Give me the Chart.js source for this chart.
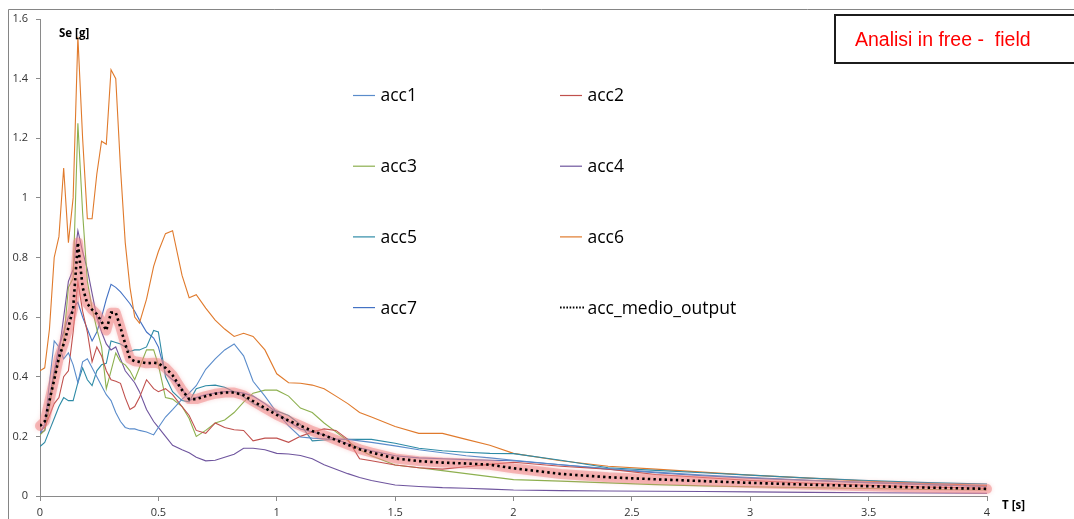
<!DOCTYPE html>
<html>
<head>
<meta charset="utf-8">
<script src="https://cdn.jsdelivr.net/npm/chart.js@4.4.0/dist/chart.umd.min.js"></script>
<style>
  html, body { margin: 0; padding: 0; background: #fff; overflow: hidden; }
</style>
</head>
<body>
<canvas id="chart" width="1074" height="519"></canvas>
<script>
// periodi T [s]
const periods = [
  0, 0.02, 0.04, 0.06, 0.08, 0.10, 0.12, 0.14, 0.16, 0.18,
  0.20, 0.22, 0.24, 0.26, 0.28, 0.30, 0.32, 0.34, 0.36, 0.38,
  0.40, 0.42, 0.45, 0.48, 0.50, 0.53, 0.56, 0.60, 0.63, 0.66,
  0.70, 0.74, 0.78, 0.82, 0.86, 0.90, 0.95, 1.00, 1.05, 1.10,
  1.15, 1.20, 1.25, 1.30, 1.35, 1.40, 1.50, 1.60, 1.70, 1.80,
  1.90, 2.00, 2.20, 2.40, 2.60, 2.80, 3.00, 3.25, 3.50, 3.75,
  4.00
];

// Se [g] per ogni accelerogramma
const acc1 = [
  0.21, 0.24, 0.38, 0.52, 0.50, 0.46, 0.48, 0.44, 0.38, 0.45,
  0.46, 0.43, 0.40, 0.37, 0.34, 0.32, 0.28, 0.25, 0.23, 0.225,
  0.225, 0.22, 0.215, 0.205, 0.23, 0.265, 0.29, 0.325, 0.345, 0.37,
  0.425, 0.46, 0.49, 0.51, 0.47, 0.385, 0.335, 0.28, 0.235, 0.198,
  0.194, 0.192, 0.19, 0.19, 0.185, 0.18, 0.168, 0.155, 0.145, 0.135,
  0.128, 0.12, 0.105, 0.092, 0.08, 0.07, 0.062, 0.053, 0.045, 0.038,
  0.032
];
const acc2 = [
  0.22, 0.23, 0.27, 0.31, 0.33, 0.40, 0.42, 0.55, 0.72, 0.62,
  0.55, 0.45, 0.50, 0.47, 0.42, 0.39, 0.385, 0.378, 0.33, 0.29,
  0.30, 0.33, 0.39, 0.36, 0.35, 0.36, 0.34, 0.30, 0.27, 0.22,
  0.21, 0.245, 0.23, 0.222, 0.22, 0.185, 0.194, 0.194, 0.18, 0.20,
  0.215, 0.225, 0.22, 0.19, 0.125, 0.118, 0.104, 0.095, 0.09, 0.098,
  0.106, 0.113, 0.10, 0.09, 0.072, 0.062, 0.052, 0.043, 0.036, 0.03,
  0.026
];
const acc3 = [
  0.205, 0.22, 0.30, 0.40, 0.45, 0.52, 0.70, 0.73, 1.25, 0.95,
  0.72, 0.63, 0.56, 0.50, 0.36, 0.42, 0.48, 0.45, 0.44, 0.42,
  0.39, 0.43, 0.49, 0.49, 0.44, 0.33, 0.325, 0.30, 0.26, 0.20,
  0.22, 0.245, 0.255, 0.28, 0.315, 0.345, 0.355, 0.355, 0.335, 0.295,
  0.28, 0.245, 0.215, 0.185, 0.155, 0.135, 0.104, 0.095, 0.085, 0.075,
  0.065, 0.055, 0.05, 0.044, 0.038, 0.034, 0.031, 0.028, 0.025, 0.022,
  0.02
];
const acc4 = [
  0.21, 0.22, 0.30, 0.40, 0.48, 0.60, 0.72, 0.76, 0.89, 0.82,
  0.76, 0.68, 0.60, 0.55, 0.51, 0.49, 0.50, 0.46, 0.42, 0.40,
  0.38, 0.35, 0.29, 0.25, 0.23, 0.20, 0.17, 0.155, 0.145, 0.13,
  0.118, 0.12, 0.13, 0.14, 0.16, 0.16, 0.155, 0.143, 0.141, 0.136,
  0.125, 0.105, 0.09, 0.075, 0.062, 0.052, 0.037, 0.032, 0.028, 0.026,
  0.023, 0.02, 0.018, 0.017, 0.016, 0.015, 0.014, 0.012, 0.011, 0.01,
  0.009
];
const acc5 = [
  0.166, 0.18, 0.22, 0.26, 0.30, 0.33, 0.32, 0.32, 0.38, 0.43,
  0.39, 0.37, 0.42, 0.44, 0.445, 0.52, 0.515, 0.51, 0.50, 0.485,
  0.49, 0.49, 0.50, 0.555, 0.55, 0.40, 0.35, 0.32, 0.316, 0.36,
  0.37, 0.372, 0.365, 0.35, 0.333, 0.31, 0.29, 0.285, 0.27, 0.24,
  0.185, 0.188, 0.19, 0.19, 0.19, 0.19, 0.177, 0.16, 0.152, 0.147,
  0.143, 0.142, 0.12, 0.095, 0.086, 0.078, 0.07, 0.06, 0.052, 0.045,
  0.04
];
const acc6 = [
  0.42, 0.43, 0.56, 0.80, 0.87, 1.10, 0.85, 1.00, 1.54, 1.20,
  0.93, 0.93, 1.08, 1.19, 1.18, 1.43, 1.40, 1.10, 0.85, 0.70,
  0.60, 0.58, 0.66, 0.77, 0.82, 0.88, 0.89, 0.74, 0.665, 0.675,
  0.63, 0.59, 0.56, 0.535, 0.546, 0.535, 0.49, 0.41, 0.38, 0.378,
  0.372, 0.36, 0.335, 0.31, 0.28, 0.265, 0.233, 0.21, 0.21, 0.19,
  0.17, 0.143, 0.118, 0.10, 0.09, 0.08, 0.07, 0.06, 0.05, 0.042,
  0.035
];
const acc7 = [
  0.21, 0.24, 0.33, 0.42, 0.50, 0.55, 0.60, 0.63, 0.65, 0.60,
  0.56, 0.52, 0.55, 0.60, 0.66, 0.71, 0.70, 0.685, 0.665, 0.645,
  0.62, 0.59, 0.55, 0.53, 0.50, 0.41, 0.39, 0.36, 0.32, 0.33,
  0.34, 0.345, 0.35, 0.35, 0.345, 0.335, 0.31, 0.28, 0.25, 0.225,
  0.215, 0.205, 0.19, 0.175, 0.162, 0.152, 0.135, 0.128, 0.125, 0.122,
  0.12, 0.118, 0.105, 0.09, 0.078, 0.068, 0.06, 0.052, 0.045, 0.038,
  0.033
];
const accMedio = [
  0.235, 0.25, 0.32, 0.39, 0.465, 0.51, 0.565, 0.63, 0.85, 0.70,
  0.645, 0.625, 0.61, 0.585, 0.555, 0.615, 0.615, 0.565, 0.51, 0.46,
  0.452, 0.45, 0.445, 0.447, 0.445, 0.43, 0.405, 0.355, 0.325, 0.325,
  0.335, 0.343, 0.347, 0.347, 0.338, 0.318, 0.295, 0.272, 0.253, 0.236,
  0.218, 0.204, 0.188, 0.172, 0.157, 0.146, 0.126, 0.117, 0.112, 0.109,
  0.105, 0.093, 0.074, 0.063, 0.056, 0.05, 0.044, 0.038, 0.033, 0.028,
  0.024
];

const seriesNames = ['acc1', 'acc2', 'acc3', 'acc4', 'acc5', 'acc6', 'acc7', 'acc_medio_output'];
const seriesValues = [acc1, acc2, acc3, acc4, acc5, acc6, acc7, accMedio];
const seriesColors = ['#5A8CCB', '#C0504D', '#8DB04F', '#6F559E', '#2E8BA6', '#E07A2C', '#4472C4', '#000000'];

const yTicks = [0, 0.2, 0.4, 0.6, 0.8, 1, 1.2, 1.4, 1.6];
const xTicks = [0, 0.5, 1, 1.5, 2, 2.5, 3, 3.5, 4];

const MEAN = 7;
const tickFont = { family: "'Open Sans', 'DejaVu Sans', sans-serif", size: 11 };

const datasets = seriesNames.map((name, i) => {
  const isMean = i === MEAN;
  return {
    label: name,
    data: seriesValues[i].map((v, k) => ({ x: periods[k], y: v })),
    borderColor: seriesColors[i],
    borderWidth: isMean ? 2.6 : 1.1,
    borderDash: isMean ? [2.4, 3.2] : [],
    pointRadius: 0,
    tension: 0,
    fill: false,
    order: isMean ? -1 : i
  };
});

// glow rosa sotto la media + cornice, titolo, legenda
const decor = {
  id: 'decor',
  beforeDraw(chart) {
    const ctx = chart.ctx;
    ctx.save();
    ctx.fillStyle = '#fff';
    ctx.fillRect(0, 0, chart.width, chart.height);
    ctx.strokeStyle = '#858585';
    ctx.lineWidth = 1;
    ctx.beginPath();
    ctx.moveTo(8.5, chart.height);
    ctx.lineTo(8.5, 9.5);
    ctx.lineTo(chart.width, 9.5);
    ctx.stroke();
    ctx.restore();
  },
  beforeDatasetDraw(chart, args) {
    if (args.index !== MEAN) return;
    const ctx = chart.ctx;
    const pts = args.meta.data;
    ctx.save();
    ctx.lineJoin = 'round';
    ctx.lineCap = 'round';
    ctx.strokeStyle = 'rgba(240,130,130,0.5)';
    ctx.shadowColor = 'rgba(240,130,130,0.6)';
    ctx.shadowBlur = 4;
    ctx.lineWidth = 10;
    ctx.beginPath();
    pts.forEach((p, k) => k ? ctx.lineTo(p.x, p.y) : ctx.moveTo(p.x, p.y));
    ctx.stroke();
    ctx.restore();
  },
  afterDraw(chart) {
    const ctx = chart.ctx;
    ctx.save();
    // titoli assi
    ctx.fillStyle = '#000';
    ctx.font = "bold 11.5px 'Open Sans', sans-serif";
    ctx.textBaseline = 'middle';
    ctx.fillText('Se [g]', 59, 34);
    ctx.fillText('T [s]', 1002, 506);

    // riquadro titolo
    ctx.strokeStyle = '#1c1c1c';
    ctx.lineWidth = 2;
    ctx.strokeRect(835, 15, 260, 48);
    ctx.fillStyle = '#ff0000';
    ctx.font = "19.5px 'Liberation Sans', Arial, sans-serif";
    ctx.textBaseline = 'alphabetic';
    ctx.fillText('Analisi in free -  field', 855, 46);

    // legenda a due colonne
    ctx.font = "17.5px 'Open Sans', sans-serif";
    ctx.textBaseline = 'middle';
    chart.data.datasets.forEach((ds, i) => {
      const col = i % 2, row = Math.floor(i / 2);
      const lx = 353 + col * 207;
      const ly = 95.5 + row * 70.7;
      ctx.strokeStyle = ds.borderColor;
      ctx.lineWidth = i === MEAN ? 2 : 1.2;
      ctx.setLineDash(i === MEAN ? [1.6, 1.6] : []);
      ctx.beginPath();
      ctx.moveTo(lx, ly);
      ctx.lineTo(lx + (i === MEAN ? 25 : 22), ly);
      ctx.stroke();
      ctx.setLineDash([]);
      ctx.fillStyle = '#000';
      ctx.fillText(ds.label, lx + 27.5, ly + 1);
    });
    ctx.restore();
  }
};

new Chart(document.getElementById('chart'), {
  type: 'line',
  data: { datasets },
  options: {
    responsive: false,
    animation: false,
    layout: { padding: { left: 0, right: 87, top: 19, bottom: 0 } },
    plugins: { legend: { display: false }, tooltip: { enabled: false } },
    scales: {
      x: {
        type: 'linear',
        min: 0,
        max: 4,
        afterBuildTicks: s => { s.ticks = xTicks.map(v => ({ value: v })); },
        afterFit: s => { s.height = 23; },
        grid: { display: true, drawOnChartArea: false, drawTicks: true, tickLength: 5, color: '#8a8a8a' },
        border: { color: '#8a8a8a', width: 1 },
        ticks: { color: '#333', font: tickFont, padding: 5, maxRotation: 0, callback: v => String(v) }
      },
      y: {
        type: 'linear',
        min: 0,
        max: 1.6,
        afterBuildTicks: s => { s.ticks = yTicks.map(v => ({ value: v })); },
        afterFit: s => { s.width = 40; },
        grid: { display: true, drawOnChartArea: false, drawTicks: true, tickLength: 4, color: '#8a8a8a' },
        border: { color: '#8a8a8a', width: 1 },
        ticks: { color: '#333', font: tickFont, padding: 8, callback: v => String(+v.toFixed(1)) }
      }
    }
  },
  plugins: [decor]
});
</script>
</body>
</html>
